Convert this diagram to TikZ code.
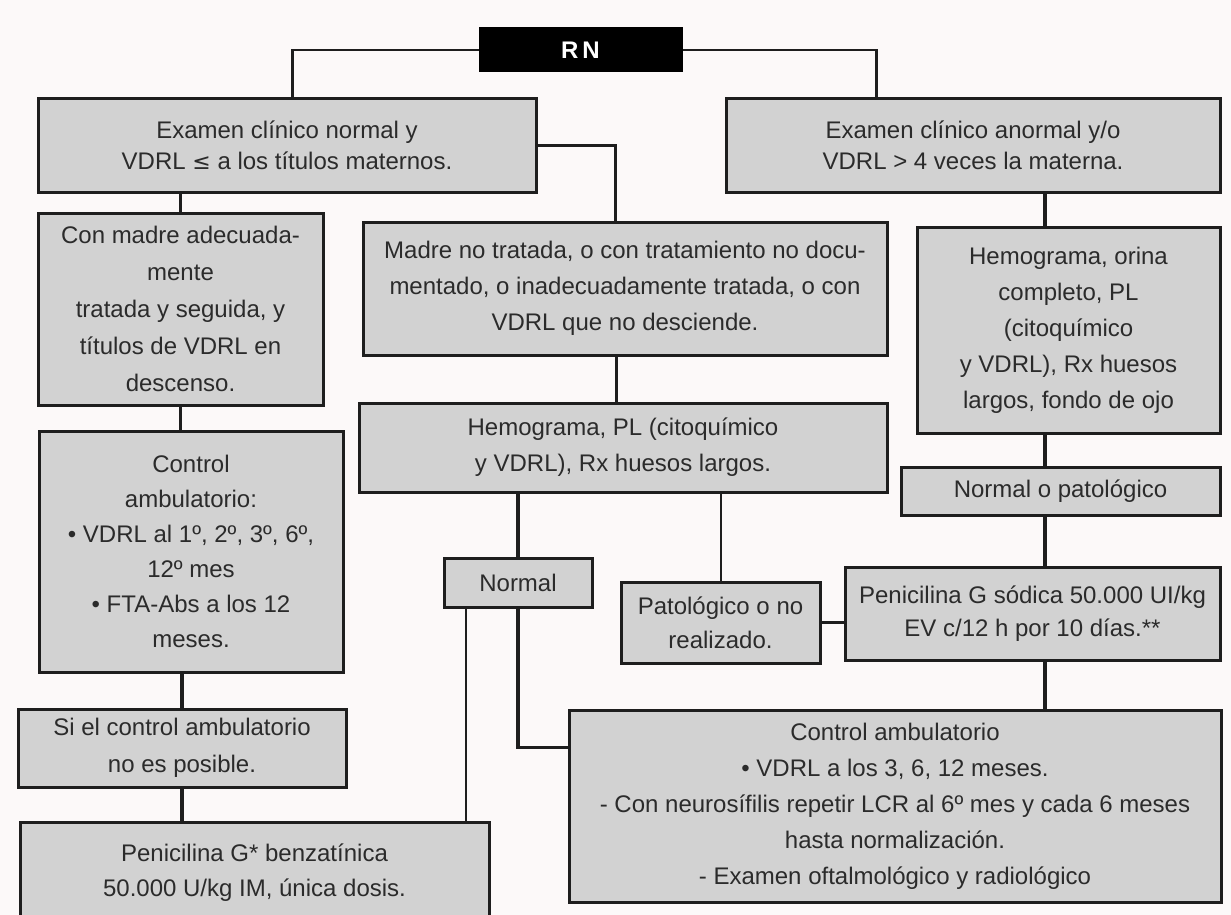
\documentclass[tikz,border=0pt]{standalone}
\usepackage{fontspec}
\setmainfont{Liberation Sans}
\newfontfamily\djv{DejaVu Sans}
\definecolor{bgc}{HTML}{FCF9F9}
\definecolor{boxc}{HTML}{D2D2D2}
\definecolor{bord}{HTML}{1E1E1E}
\definecolor{txt}{HTML}{2B2B2B}
\begin{document}
\begin{tikzpicture}[x=1pt,y=-1pt,
  box/.style={draw=bord, line width=3pt, fill=boxc, text=txt, align=center, inner sep=0pt,
    font=\fontsize{24}{36}\selectfont},
  conn/.style={draw=bord, line width=3.5pt, line join=miter},
  thinconn/.style={draw=bord, line width=2pt, line join=miter}]
\useasboundingbox (0,0) rectangle (1231,915);
\fill[bgc] (0,0) rectangle (1231,915);
\clip (0,0) rectangle (1231,915);

% nodes
\node[draw=black, fill=black, line width=1pt, minimum width=203pt, minimum height=44pt, inner sep=0pt,
  text=white, font=\fontsize{24}{24}\selectfont\bfseries] (rn) at (580.5,50) {R\,N};
\node[box, minimum width=498pt, minimum height=93pt, font=\fontsize{24}{31}\selectfont] (b1) at (287,145.5)
  {Examen clínico normal y\\VDRL {\djv\fontsize{22}{31}\selectfont ≤} a los títulos maternos.};
\node[box, minimum width=494pt, minimum height=93pt, font=\fontsize{24}{31}\selectfont] (b2) at (973,145.5)
  {Examen clínico anormal y/o\\VDRL > 4 veces la materna.};
\node[box, minimum width=285pt, minimum height=192pt, font=\fontsize{24}{37}\selectfont] (b3) at (180.5,309)
  {Con madre adecuada-\\mente\\tratada y seguida, y\\títulos de VDRL en\\descenso.};
\node[box, minimum width=304pt, minimum height=241pt, font=\fontsize{24}{35}\selectfont] (b4) at (191,551.5)
  {Control\\ambulatorio:\\• VDRL al 1º, 2º, 3º, 6º,\\12º mes\\• FTA-Abs a los 12\\meses.};
\node[box, minimum width=328pt, minimum height=78pt, font=\fontsize{24}{37}\selectfont] (b5) at (182,748)
  {Si el control ambulatorio\\no es posible.};
\node[box, minimum width=469pt, minimum height=101pt, font=\fontsize{24}{35}\selectfont] (b6) at (254.5,872.5)
  {Penicilina G* benzatínica\\50.000 U/kg IM, única dosis.};
\node[box, minimum width=524pt, minimum height=133pt] (b7) at (625,288.5)
  {Madre no tratada, o con tratamiento no docu-\\mentado, o inadecuadamente tratada, o con\\VDRL que no desciende.};
\node[box, minimum width=528pt, minimum height=89pt] (b8) at (623,447.5)
  {Hemograma, PL (citoquímico\\y VDRL), Rx huesos largos.};
\node[box, minimum width=148pt, minimum height=49pt] (nm) at (518,582.5) {Normal};
\node[box, minimum width=199pt, minimum height=81pt, font=\fontsize{24}{34}\selectfont] (pat) at (720.5,622.5)
  {Patológico o no\\realizado.};
\node[box, minimum width=303pt, minimum height=206pt] (hr) at (1068.5,330)
  {Hemograma, orina\\completo, PL\\(citoquímico\\y VDRL), Rx huesos\\largos, fondo de ojo};
\node[box, minimum width=319pt, minimum height=48pt] (nop) at (1060.5,491) {Normal o patológico};
\node[box, minimum width=375pt, minimum height=93pt, font=\fontsize{24}{33}\selectfont] (pen) at (1032.5,613.5)
  {Penicilina G sódica 50.000 UI/kg\\EV c/12 h por 10 días.**};
\node[box, minimum width=652pt, minimum height=192pt] (ctl) at (895,806)
  {Control ambulatorio\\• VDRL a los 3, 6, 12 meses.\\- Con neurosífilis repetir LCR al 6º mes y cada 6 meses\\hasta normalización.\\- Examen oftalmológico y radiológico};

% helper coordinates
\coordinate (xc) at (1045,0);
\coordinate (b1L) at ([xshift=256pt]b1.north west);
\coordinate (b2L) at ([xshift=152pt]b2.north west);
\coordinate (b7T) at ([xshift=254pt]b7.north west);
\coordinate (b7B) at ([xshift=255pt]b7.south west);
\coordinate (nmL) at ([xshift=23pt]nm.south west);
\coordinate (ctlL) at ([yshift=-39pt]ctl.north west);

% connectors
\draw[thinconn, line width=2.5pt] (rn.west) -| (b1L);
\draw[thinconn, line width=2.5pt] (rn.east) -| (b2L);
\draw[conn, line width=3pt] (b1.east) -| (b7T);
\draw[conn] (b3.north |- b1.south) -- (b3.north);
\draw[conn] (b3.south) -- (b3.south |- b4.north);
\draw[conn] (b5.north |- b4.south) -- (b5.north);
\draw[conn] (b5.south) -- (b5.south |- b6.north);
\draw[conn] (b7B) -- (b7B |- b8.north);
\draw[conn] (nm.north |- b8.south) -- (nm.north);
\draw[thinconn] (pat.north |- b8.south) -- (pat.north);
\draw[thinconn] (nmL) -- (nmL |- b6.north);
\draw[conn] (nm.south) |- (ctlL);
\draw[conn] (pat.east) -- (pat.east -| pen.west);
\draw[conn] (b2.south -| xc) -- (hr.north -| xc);
\draw[conn] (hr.south -| xc) -- (nop.north -| xc);
\draw[conn] (nop.south -| xc) -- (pen.north -| xc);
\draw[conn] (pen.south -| xc) -- (ctl.north -| xc);
\end{tikzpicture}
\end{document}
